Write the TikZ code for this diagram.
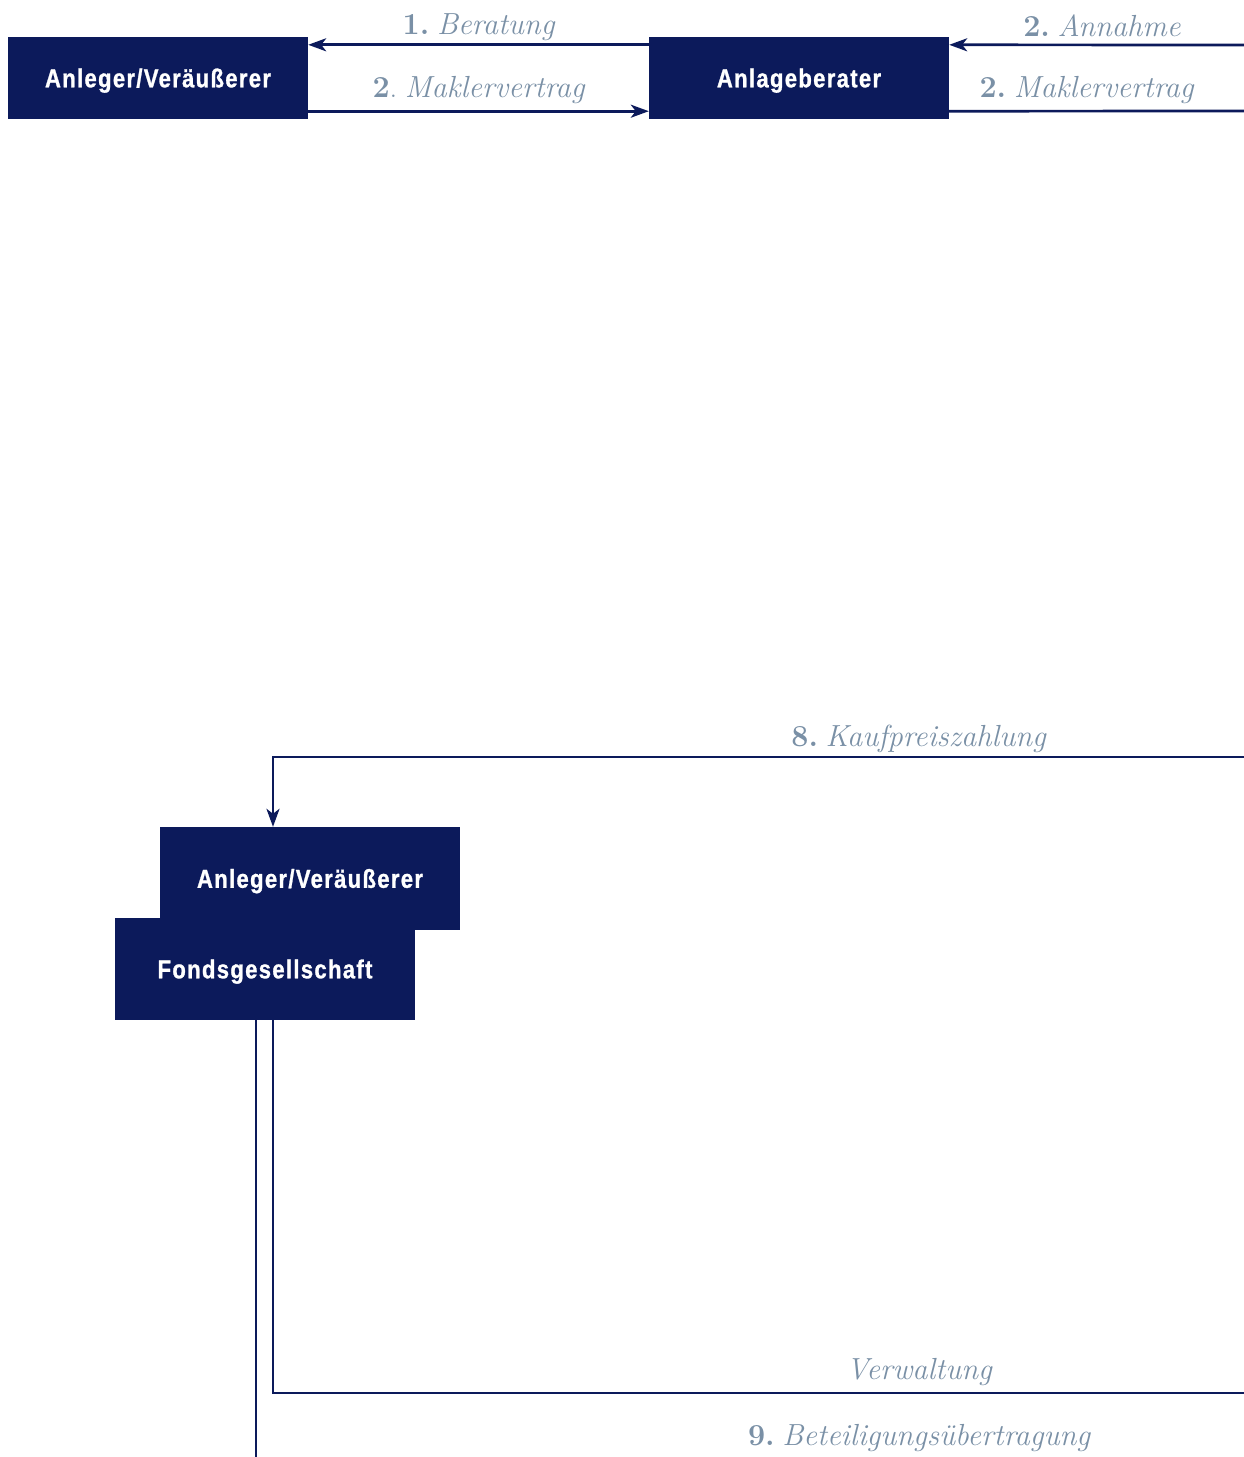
\documentclass[tikz,border=0pt]{standalone}
\usepackage{fontspec}
\newfontfamily\boxfont[FakeStretch=0.85, LetterSpace=5, FakeBold=1]{Liberation Sans}
\usetikzlibrary{arrows.meta}
\definecolor{navy}{HTML}{0C1A5B}
\definecolor{lbl}{HTML}{7A90A6}
\tikzset{
  box/.style={fill=navy, inner sep=0pt, minimum width=300pt, text=white,
    text height=18.6pt, text depth=0pt,
    font=\boxfont\bfseries\fontsize{26}{28}\selectfont},
  conn/.style={draw=navy, line width=2.7pt},
  arr/.style={conn, -{Stealth[length=18pt,width=13pt,inset=5pt]}},
  lab/.style={text=lbl, anchor=base, inner sep=0pt, font=\fontsize{30.5}{32}\selectfont}
}
\newcommand{\nsp}{\hspace{0.25em}}
\begin{document}
\begin{tikzpicture}[x=1pt,y=-1pt]
\useasboundingbox (0,0) rectangle (1244,1457);
% boxes
\node[box, minimum height=82pt] (A1) at (158,78) {Anleger/Veräußerer};
\node[box, minimum height=82pt] (B) at (799,78) {Anlageberater};
\node[box, minimum height=103pt] (A2) at (310,878.5) {Anleger/Veräußerer};
\node[box, minimum height=102pt] (F) at (265,969) {Fondsgesellschaft};
% free ends
\coordinate (R1) at (1244,45);
\coordinate (R2) at (1244,111);
\coordinate (R8) at (1244,757);
\coordinate (RV) at (1244,1393);
\coordinate (B9) at (256,1457);
% connectors
\draw[arr] ([yshift=-8pt]B.north west) -- ([yshift=-8pt]A1.north east);
\draw[arr] ([yshift=8pt]A1.south east) -- ([yshift=8pt]B.south west);
\draw[arr] (R1) -- ([yshift=-8pt]B.north east);
\draw[conn] ([yshift=8pt]B.south east) -- (R2);
\draw[arr] (R8) -| ([xshift=-37pt]A2.north);
\draw[conn] ([xshift=8pt]F.south) |- (RV);
\draw[conn] ([xshift=-9pt]F.south) -- (B9);
% labels
\node[lab] (l1) at (479,34) {\textbf{1.}\nsp\textit{Beratung}};
\node[lab] (l2) at (479,97) {\textbf{2}.\nsp\textit{Maklervertrag}};
\node[lab] (l3) at (1102,36) {\textbf{2.}\nsp\textit{Annahme}};
\node[lab] (l4) at (1087,97) {\textbf{2.}\nsp\textit{Maklervertrag}};
\node[lab] (l8) at (919,746) {\textbf{8.}\nsp\textit{Kaufpreiszahlung}};
\node[lab] (lv) at (919.5,1379) {\textit{Verwaltung}};
\node[lab] (l9) at (919.5,1445) {\textbf{9.}\nsp\textit{Beteiligungsübertragung}};
\end{tikzpicture}
\end{document}
